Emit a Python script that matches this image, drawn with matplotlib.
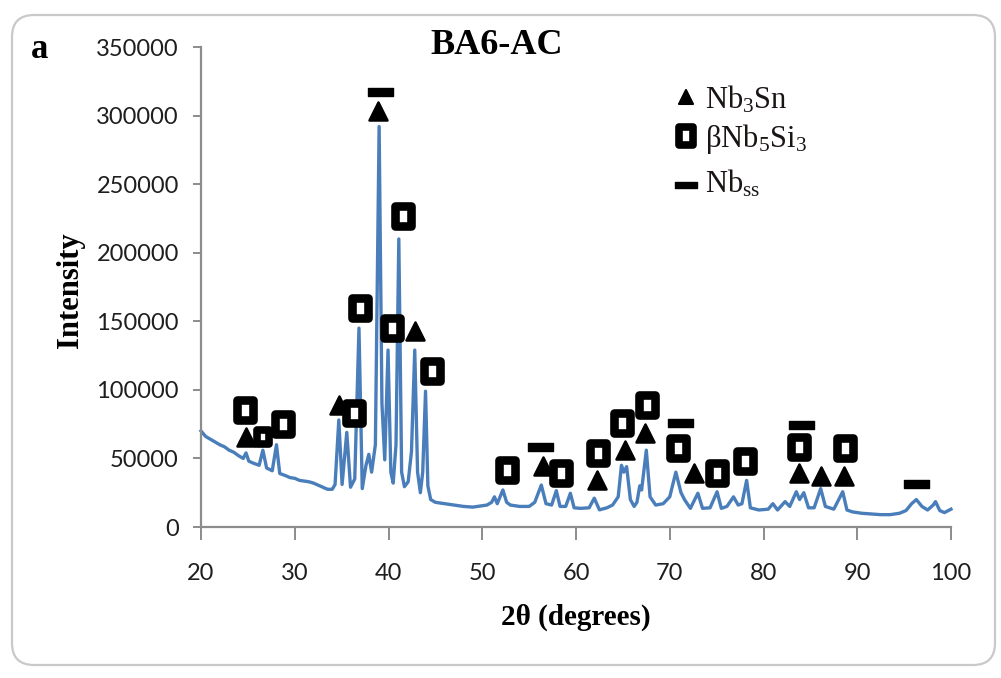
import numpy as np
import matplotlib
matplotlib.use("Agg")
import matplotlib.pyplot as plt
from matplotlib.markers import MarkerStyle
from matplotlib.patches import FancyBboxPatch
from matplotlib.path import Path
from matplotlib.transforms import IdentityTransform
from matplotlib.ticker import FuncFormatter

plt.rcParams["mathtext.fontset"] = "custom"
plt.rcParams["mathtext.rm"] = "Liberation Serif"
plt.rcParams["mathtext.it"] = "Liberation Serif:italic"
plt.rcParams["mathtext.bf"] = "Liberation Serif:bold"

# ---- XRD pattern (2theta in degrees, intensity in thousands of counts) ----
two_theta = [20.0, 20.5, 21.0, 21.5, 22.0, 22.5, 23.0, 23.5, 24.0, 24.5, 24.8, 25.1,
             25.6, 26.2, 26.6, 27.0, 27.6, 28.05, 28.4, 29.0, 29.5, 30.0, 30.5, 31.0,
             31.5, 32.0, 32.5, 33.0, 33.5, 34.0, 34.3, 34.7, 35.05, 35.55, 35.95, 36.4,
             36.85, 37.2, 37.6, 37.9, 38.2, 38.6, 39.0, 39.3, 39.6, 39.95, 40.25, 40.5,
             40.8, 41.1, 41.4, 41.7, 42.1, 42.45, 42.8, 43.1, 43.4, 43.65, 43.95, 44.2,
             44.5, 45.0, 46.0, 47.0, 48.0, 49.0, 50.0, 50.5, 51.0, 51.3, 51.6, 52.2,
             52.6, 53.0, 54.0, 55.0, 55.6, 56.3, 56.8, 57.4, 57.9, 58.3, 58.9, 59.4,
             59.8, 60.5, 61.4, 61.95, 62.5, 63.3, 63.9, 64.5, 64.85, 65.1, 65.4, 65.8,
             66.2, 66.5, 66.8, 67.0, 67.5, 67.9, 68.5, 69.3, 70.0, 70.65, 71.2, 71.6,
             72.2, 73.0, 73.5, 74.3, 75.05, 75.5, 76.1, 76.8, 77.3, 77.7, 78.2, 78.6,
             79.5, 80.5, 81.0, 81.5, 82.3, 82.8, 83.5, 83.85, 84.3, 84.8, 85.4, 86.1,
             86.6, 87.5, 88.45, 88.9, 89.5, 90.5, 91.5, 92.5, 93.5, 94.5, 95.2, 95.8,
             96.3, 96.9, 97.5, 98.1, 98.35, 98.8, 99.3, 100.0]
intensity_k = [70, 66, 64, 62, 60, 58.5, 56, 54.5, 52, 50, 54, 48,
               46.5, 45, 56, 43, 41, 60, 39, 37.5, 36, 35.5, 34, 33.5,
               33, 32, 30.5, 29, 27.5, 27.5, 31, 78, 31, 69, 29, 35,
               145, 28, 45, 53, 40, 60, 292, 90, 49, 129, 40, 32,
               60, 210, 40, 29.4, 33, 55, 129, 40, 25, 40, 99, 30,
               20, 18, 17, 16, 15, 14.5, 15.5, 16, 18, 22, 17, 27,
               18, 16, 15, 15, 18, 30.6, 17, 16, 26.5, 15, 15, 24.6,
               14, 13.6, 14, 21, 12.5, 14, 16, 22, 45, 40, 44, 20,
               15, 18, 30, 27, 56, 22, 16, 17, 22, 40, 25, 19.7,
               13.6, 24.6, 13.6, 14, 25.7, 13.6, 15, 22, 16, 17, 34, 14,
               12.4, 13, 17, 12.4, 18.5, 15, 25.7, 20, 25, 14, 14, 28,
               15, 13, 25.7, 12.4, 11, 10, 9.5, 9, 9, 10, 12, 17,
               20, 15, 12.4, 16, 18.5, 12, 10.5, 13]

# ---- phase markers (2theta, intensity in thousands) ----
nb3sn_x = [24.8, 34.7, 38.9, 42.8, 56.5, 62.2, 65.2, 67.4, 72.6, 83.8, 86.1, 88.6]
nb3sn_y = [65.6, 89.0, 303.0, 143.0, 44.5, 34.3, 56.1, 68.5, 39.4, 39.4, 37.2, 37.2]
nb5si3_x = [24.7, 28.7, 36.3, 37.0, 40.4, 41.5, 44.6, 52.6, 58.4, 62.3, 64.9, 67.6,
            70.9, 75.0, 78.0, 83.8, 88.7]
nb5si3_y = [85.3, 75.1, 83.1, 159.7, 145.1, 226.8, 113.8, 41.6, 39.4, 54.0, 75.8, 89.0,
            57.6, 39.4, 48.1, 58.3, 57.6]
nb5si3_small_x = [26.6]
nb5si3_small_y = [65.6]
nbss_x = [39.1, 56.2, 71.1, 84.0, 96.3]
nbss_y = [317.2, 58.3, 75.8, 74.4, 31.4]

legend_labels = [r"Nb$_3$Sn", r"βNb$_5$Si$_3$", r"Nb$_{\rm ss}$"]
title = "BA6-AC"
panel = "a"
x_label = "2θ (degrees)"
y_label = "Intensity"
x_ticks = [20, 30, 40, 50, 60, 70, 80, 90, 100]
y_ticks = [0, 50000, 100000, 150000, 200000, 250000, 300000, 350000]

W, H = 1001, 678
fig = plt.figure(figsize=(W / 100, H / 100), dpi=100)
fig.patch.set_facecolor("white")

# chart-area frame
fig.patches.append(FancyBboxPatch((12, 13), 983, 650,
                                  boxstyle="round,pad=0,rounding_size=22",
                                  transform=IdentityTransform(), facecolor="none",
                                  edgecolor="#c9c9c9", linewidth=1.6, zorder=-5))

ax = fig.add_axes([201 / W, 1 - 527 / H, 750 / W, 480 / H])
ax.set_facecolor("none")
k = np.array(intensity_k) * 1000
ax.plot(two_theta, k, color="#4a7ebb", lw=2.4, solid_joinstyle="round", zorder=2,
        clip_on=False)

blk = "black"
tri = MarkerStyle("^", joinstyle="round")
ax.plot(nb3sn_x, np.array(nb3sn_y) * 1000, ls="none", marker=tri, ms=12.5,
        mfc=blk, mec=blk, mew=1.8, zorder=3, clip_on=False)

rect_path = Path([(-0.4, -0.5), (0.4, -0.5), (0.4, 0.5), (-0.4, 0.5), (-0.4, -0.5)],
                 closed=True)
sq = MarkerStyle(rect_path, joinstyle="round")
ax.plot(nb5si3_x, np.array(nb5si3_y) * 1000, ls="none", marker=sq, ms=15,
        mfc="white", mec=blk, mew=6.2, zorder=4, clip_on=False)
ax.plot(nb5si3_small_x, np.array(nb5si3_small_y) * 1000, ls="none", marker=sq, ms=10.5,
        mfc="white", mec=blk, mew=5.5, zorder=4, clip_on=False)

bar_path = Path([(-1, -0.3), (1, -0.3), (1, 0.3), (-1, 0.3), (-1, -0.3)], closed=True)
bar = MarkerStyle(bar_path, joinstyle="round")
ax.plot(nbss_x, np.array(nbss_y) * 1000, ls="none", marker=bar, ms=18,
        mfc=blk, mec=blk, mew=1.0, zorder=4, clip_on=False)

ax.set_xlim(20, 100)
ax.set_ylim(0, 350000)
ax.set_xticks(x_ticks)
ax.set_yticks(y_ticks)
ax.yaxis.set_major_formatter(FuncFormatter(lambda v, p: f"{int(v)}"))
for s in ["top", "right"]:
    ax.spines[s].set_visible(False)
for s in ["left", "bottom"]:
    ax.spines[s].set_color("#8c8c8c")
    ax.spines[s].set_linewidth(1.6)
ax.tick_params(axis="both", direction="out", color="#8c8c8c", width=1.4,
               labelcolor="#1e1e1e", labelsize=17)
ax.tick_params(axis="y", length=6, pad=10)
ax.tick_params(axis="x", length=9, pad=17)
for lab in ax.get_xticklabels() + ax.get_yticklabels():
    lab.set_fontfamily("Lato")

serif = "Liberation Serif"
ax.set_xlabel(x_label, fontfamily=serif, fontweight="bold", fontsize=21, labelpad=14)
fig.text(70 / W, 1 - 290 / H, y_label, rotation=90, ha="center", va="center",
         fontfamily=serif, fontweight="bold", fontsize=22)
fig.text(497 / W, 1 - 46 / H, title, ha="center", va="center",
         fontfamily=serif, fontweight="bold", fontsize=26)
fig.text(40 / W, 1 - 49 / H, panel, ha="center", va="center",
         fontfamily=serif, fontweight="bold", fontsize=25)

# legend (drawn manually to mimic the reference)
leg_y = [97, 136, 185]
fig.lines.append(plt.Line2D([686 / W], [1 - leg_y[0] / H], transform=fig.transFigure,
                            marker=tri, ms=10, mfc=blk, mec=blk, mew=1.5, ls="none"))
fig.lines.append(plt.Line2D([686 / W], [1 - leg_y[1] / H], transform=fig.transFigure,
                            marker=sq, ms=13, mfc="white", mec=blk, mew=5.5, ls="none"))
fig.lines.append(plt.Line2D([686 / W], [1 - leg_y[2] / H], transform=fig.transFigure,
                            marker=bar, ms=16, mfc=blk, mec=blk, mew=1.0, ls="none"))
for yy, lab in zip([100, 139, 184], legend_labels):
    fig.text(705 / W, 1 - yy / H, lab, ha="left", va="center", fontfamily=serif,
             fontsize=22, color="#1a1414")

fig.savefig("out.png", dpi=100)
